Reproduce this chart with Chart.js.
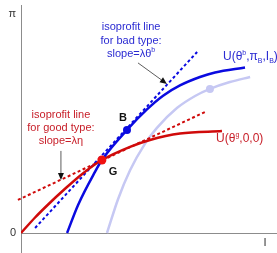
<!DOCTYPE html>
<html>
<head>
<meta charset="utf-8">
<script src="https://cdn.jsdelivr.net/npm/chart.js@4.4.1/dist/chart.umd.min.js"></script>
<style>
  html, body { margin: 0; padding: 0; background: #fff; }
  canvas { display: block; }
</style>
</head>
<body>
<canvas id="myChart" width="277" height="253"></canvas>
<script>
// indifference curves (I on x, pi on y)
const goodX = [0, 0.55, 1.05, 1.72, 2.38, 3.16, 4.26, 5.04, 6.21, 7.85];
const goodY = [0, 0.68, 1.24, 1.94, 2.58, 3.20, 3.78, 4.08, 4.36, 4.47];
const badX = [1.80, 2.23, 2.89, 3.16, 4.14, 4.92, 5.55, 6.21, 6.99, 7.58, 8.75];
const badY = [0, 1.23, 2.68, 3.20, 4.52, 5.42, 6.02, 6.47, 6.84, 7.04, 7.26];
const paleX = [3.36, 3.79, 4.26, 4.84, 5.31, 6.09, 6.80, 7.38, 8.16, 8.95];
const paleY = [0, 1.48, 2.75, 3.91, 4.61, 5.48, 6.01, 6.32, 6.62, 6.84];

// isoprofit lines
const goodLineX = [-0.12, 7.19];
const goodLineY = [1.45, 5.31];
const badLineX = [0.55, 6.88];
const badLineY = [0.22, 7.94];

// contract points G, B and the pale one
const pointG = [3.16, 3.20];
const pointB = [4.14, 4.52];
const pointPale = [7.38, 6.32];

const yTicks = [0, 9.6];
const yTickLabels = ['0', 'π'];

const BLUE = '#0a0ae0';
const RED = '#d00a0a';
const PALE = '#c6c8f3';
const AXIS = '#8c8c8c';
const FONT = '"Liberation Sans", Arial, sans-serif';

function pts(xs, ys) {
  return xs.map((x, i) => ({ x: x, y: ys[i] }));
}

function axisGrid(c) {
  return c.tick && c.tick.value === 0 ? AXIS : 'rgba(0,0,0,0)';
}

// draws text made of pieces, some raised or lowered
function richText(ctx, parts, x, y, size, color) {
  ctx.fillStyle = color;
  ctx.textBaseline = 'middle';
  ctx.textAlign = 'left';
  let cx = x;
  parts.forEach(p => {
    const small = p.sup || p.sub;
    ctx.font = (small ? Math.round(size * 0.6) : size) + 'px ' + FONT;
    const dy = p.sup ? -size * 0.3 : (p.sub ? size * 0.3 : 0);
    ctx.fillText(p.t, cx, y + dy);
    cx += ctx.measureText(p.t).width;
  });
}

function centerRich(ctx, parts, x, y, size, color) {
  let w = 0;
  parts.forEach(p => {
    const small = p.sup || p.sub;
    ctx.font = (small ? Math.round(size * 0.6) : size) + 'px ' + FONT;
    w += ctx.measureText(p.t).width;
  });
  richText(ctx, parts, x - w / 2, y, size, color);
}

function arrow(ctx, x1, y1, x2, y2) {
  const a = Math.atan2(y2 - y1, x2 - x1);
  const len = 7, half = 3;
  ctx.strokeStyle = '#333';
  ctx.fillStyle = '#111';
  ctx.lineWidth = 0.8;
  ctx.beginPath();
  ctx.moveTo(x1, y1);
  ctx.lineTo(x2 - len * Math.cos(a), y2 - len * Math.sin(a));
  ctx.stroke();
  ctx.beginPath();
  ctx.moveTo(x2, y2);
  ctx.lineTo(x2 - len * Math.cos(a) + half * Math.sin(a), y2 - len * Math.sin(a) - half * Math.cos(a));
  ctx.lineTo(x2 - len * Math.cos(a) - half * Math.sin(a), y2 - len * Math.sin(a) + half * Math.cos(a));
  ctx.closePath();
  ctx.fill();
}

const labels = {
  id: 'labels',
  afterDatasetsDraw(chart) {
    const ctx = chart.ctx;
    const sx = v => chart.scales.x.getPixelForValue(v);
    const sy = v => chart.scales.y.getPixelForValue(v);
    ctx.save();

    // bad type isoprofit note
    const bx = sx(4.3);
    centerRich(ctx, [{ t: 'isoprofit line' }], bx, sy(9.04), 11, '#2a2ad2');
    centerRich(ctx, [{ t: 'for bad type:' }], bx, sy(8.44), 11, '#2a2ad2');
    centerRich(ctx, [{ t: 'slope=λθ' }, { t: 'b', sup: true }], bx, sy(7.86), 11, '#2a2ad2');
    arrow(ctx, sx(4.57), sy(7.46), sx(5.70), sy(6.54));

    // good type isoprofit note
    const gx = sx(1.56);
    centerRich(ctx, [{ t: 'isoprofit line' }], gx, sy(5.18), 11, '#c8202a');
    centerRich(ctx, [{ t: 'for good type:' }], gx, sy(4.61), 11, '#c8202a');
    centerRich(ctx, [{ t: 'slope=λη' }], gx, sy(4.04), 11, '#c8202a');
    arrow(ctx, sx(1.56), sy(3.60), sx(1.56), sy(2.32));

    // curve names
    richText(ctx, [{ t: 'U(θ' }, { t: 'b', sup: true }, { t: ',π' }, { t: 'B', sub: true },
      { t: ',I' }, { t: 'B', sub: true }, { t: ')' }], sx(7.89), sy(7.72), 12, '#2a2ad2');
    richText(ctx, [{ t: 'U(θ' }, { t: 'g', sup: true }, { t: ',0,0)' }], sx(7.62), sy(4.12), 12, '#c8202a');

    // point names
    ctx.font = 'bold 11px ' + FONT;
    ctx.fillStyle = '#111';
    ctx.textAlign = 'center';
    ctx.textBaseline = 'middle';
    ctx.fillText('B', sx(3.98), sy(5.04));
    ctx.fillText('G', sx(3.59), sy(2.68));

    // x axis name
    ctx.font = '11px ' + FONT;
    ctx.fillStyle = '#333';
    ctx.fillText('I', sx(9.53), sy(-0.44));
    ctx.restore();
  }
};

document.addEventListener('DOMContentLoaded', function() {
  const ctx = document.getElementById('myChart');

  new Chart(ctx, {
    type: 'scatter',
    data: {
      datasets: [
        { data: [{ x: pointG[0], y: pointG[1] }], backgroundColor: '#f01010', borderWidth: 0, pointRadius: 4.5 },
        { data: [{ x: pointB[0], y: pointB[1] }], backgroundColor: BLUE, borderWidth: 0, pointRadius: 4 },
        { data: pts(badX, badY), showLine: true, borderColor: BLUE, borderWidth: 2.5, pointRadius: 0, cubicInterpolationMode: 'monotone' },
        { data: pts(goodX, goodY), showLine: true, borderColor: RED, borderWidth: 2.5, pointRadius: 0, cubicInterpolationMode: 'monotone' },
        { data: pts(badLineX, badLineY), showLine: true, borderColor: BLUE, borderWidth: 2, borderDash: [3, 2.5], pointRadius: 0, clip: false },
        { data: pts(goodLineX, goodLineY), showLine: true, borderColor: RED, borderWidth: 2, borderDash: [3, 2.5], pointRadius: 0, clip: false },
        { data: [{ x: pointPale[0], y: pointPale[1] }], backgroundColor: PALE, borderWidth: 0, pointRadius: 4 },
        { data: pts(paleX, paleY), showLine: true, borderColor: PALE, borderWidth: 2.5, pointRadius: 0, cubicInterpolationMode: 'monotone' }
      ]
    },
    options: {
      responsive: false,
      animation: false,
      layout: { autoPadding: false, padding: { top: 5, left: 0, right: 0, bottom: 0 } },
      plugins: { legend: { display: false }, tooltip: { enabled: false } },
      scales: {
        x: {
          type: 'linear',
          min: 0,
          max: 10,
          border: { display: false },
          grid: { drawTicks: false, color: axisGrid, lineWidth: 1 },
          ticks: { display: false },
          afterBuildTicks: s => { s.ticks = [{ value: 0 }]; },
          afterFit: s => { s.height = 0; s.paddingLeft = 0; s.paddingRight = 0; }
        },
        y: {
          type: 'linear',
          min: -0.877,
          max: 10,
          border: { display: false },
          grid: { drawTicks: false, color: axisGrid, lineWidth: 1 },
          ticks: {
            padding: 5,
            color: '#333',
            font: { size: 11, family: FONT },
            callback: v => yTickLabels[yTicks.indexOf(v)]
          },
          afterBuildTicks: s => { s.ticks = yTicks.map(v => ({ value: v })); },
          afterFit: s => { s.width = 21; s.paddingTop = 0; s.paddingBottom = 0; }
        }
      }
    },
    plugins: [labels]
  });
});
</script>
</body>
</html>
